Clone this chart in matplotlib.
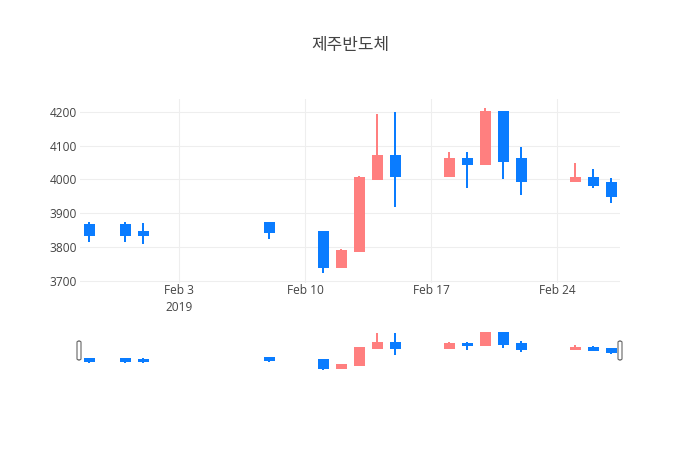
import numpy as np
import pandas as pd
import matplotlib
matplotlib.use("Agg")
import matplotlib.pyplot as plt
import matplotlib.dates as mdates
from matplotlib.patches import FancyBboxPatch

# daily prices
dates = ["2019-01-29", "2019-01-31", "2019-02-01", "2019-02-08", "2019-02-11",
         "2019-02-12", "2019-02-13", "2019-02-14", "2019-02-15", "2019-02-18",
         "2019-02-19", "2019-02-20", "2019-02-21", "2019-02-22", "2019-02-25",
         "2019-02-26", "2019-02-27"]
opens = [3865, 3865, 3845, 3870, 3845, 3740, 3790, 4000, 4070, 4010,
         4060, 4045, 4200, 4060, 3995, 4005, 3990]
highs = [3875, 3875, 3870, 3870, 3845, 3795, 4010, 4195, 4200, 4080,
         4080, 4210, 4200, 4095, 4050, 4030, 4005]
lows = [3815, 3815, 3810, 3825, 3725, 3740, 3790, 4000, 3920, 4010,
        3975, 4045, 4000, 3955, 3995, 3975, 3930]
closes = [3835, 3835, 3835, 3845, 3740, 3790, 4005, 4070, 4010, 4060,
          4045, 4200, 4055, 3995, 4005, 3985, 3950]

title = "제주반도체"
up_color = "#ff7f7f"
down_color = "#0a7cff"
text_color = "#444444"

plt.rcParams["font.family"] = ["Open Sans", "DejaVu Sans"]

x = mdates.date2num(pd.to_datetime(dates))
x_lo, x_hi = x[0] - 0.5, x[-1] + 0.5
y_lo, y_hi = 3694, 4238


def draw_candles(ax):
    for xi, o, h, l, c in zip(x, opens, highs, lows, closes):
        col = up_color if c > o else down_color
        ax.vlines(xi, l, h, color=col, linewidth=1.44, zorder=3)
        ax.bar(xi, abs(c - o), bottom=min(o, c), width=0.5, color=col,
               edgecolor=col, linewidth=1.44, zorder=4)


fig = plt.figure(figsize=(7, 4.5), dpi=100)

# main chart: x 80..620 px, y 99..283 px
ax = fig.add_axes([80 / 700, 1 - 283 / 450, 540 / 700, 184 / 450])
draw_candles(ax)
ax.set_xlim(x_lo, x_hi)
ax.set_ylim(y_lo, y_hi)
ax.set_yticks([3700, 3800, 3900, 4000, 4100, 4200])
ticks = mdates.date2num(pd.to_datetime(["2019-02-03", "2019-02-10", "2019-02-17", "2019-02-24"]))
ax.set_xticks(ticks)
ax.set_xticklabels(["Feb 3\n2019", "Feb 10", "Feb 17", "Feb 24"], linespacing=1.35)
ax.grid(True, color="#eeeeee", linewidth=0.8, zorder=0)
ax.set_axisbelow(True)
for s in ax.spines.values():
    s.set_visible(False)
ax.tick_params(length=0, labelsize=8.6, colors=text_color)
ax.tick_params(axis="y", pad=2)
ax.tick_params(axis="x", pad=1)

fig.text(0.5, 1 - 45 / 450, title, ha="center", va="center", fontsize=12.2,
         color=text_color, family=["Noto Sans CJK KR", "DejaVu Sans"])

# range slider: y 330..372 px
sl = fig.add_axes([80 / 700, 1 - 372 / 450, 540 / 700, 42 / 450])
draw_candles(sl)
sl.set_xlim(x_lo, x_hi)
sl.set_ylim(y_lo, y_hi)
sl.set_xticks([])
sl.set_yticks([])
for s in sl.spines.values():
    s.set_visible(False)

# slider grab handles
for hx in (79, 620):
    handle = FancyBboxPatch(((hx - 2) / 700, 1 - 360 / 450), 4 / 700, 19 / 450,
                            boxstyle="round,pad=0,rounding_size=0.003",
                            transform=fig.transFigure, facecolor="white",
                            edgecolor="#666666", linewidth=0.8, zorder=10)
    fig.add_artist(handle)

fig.savefig("out.png", dpi=100)
